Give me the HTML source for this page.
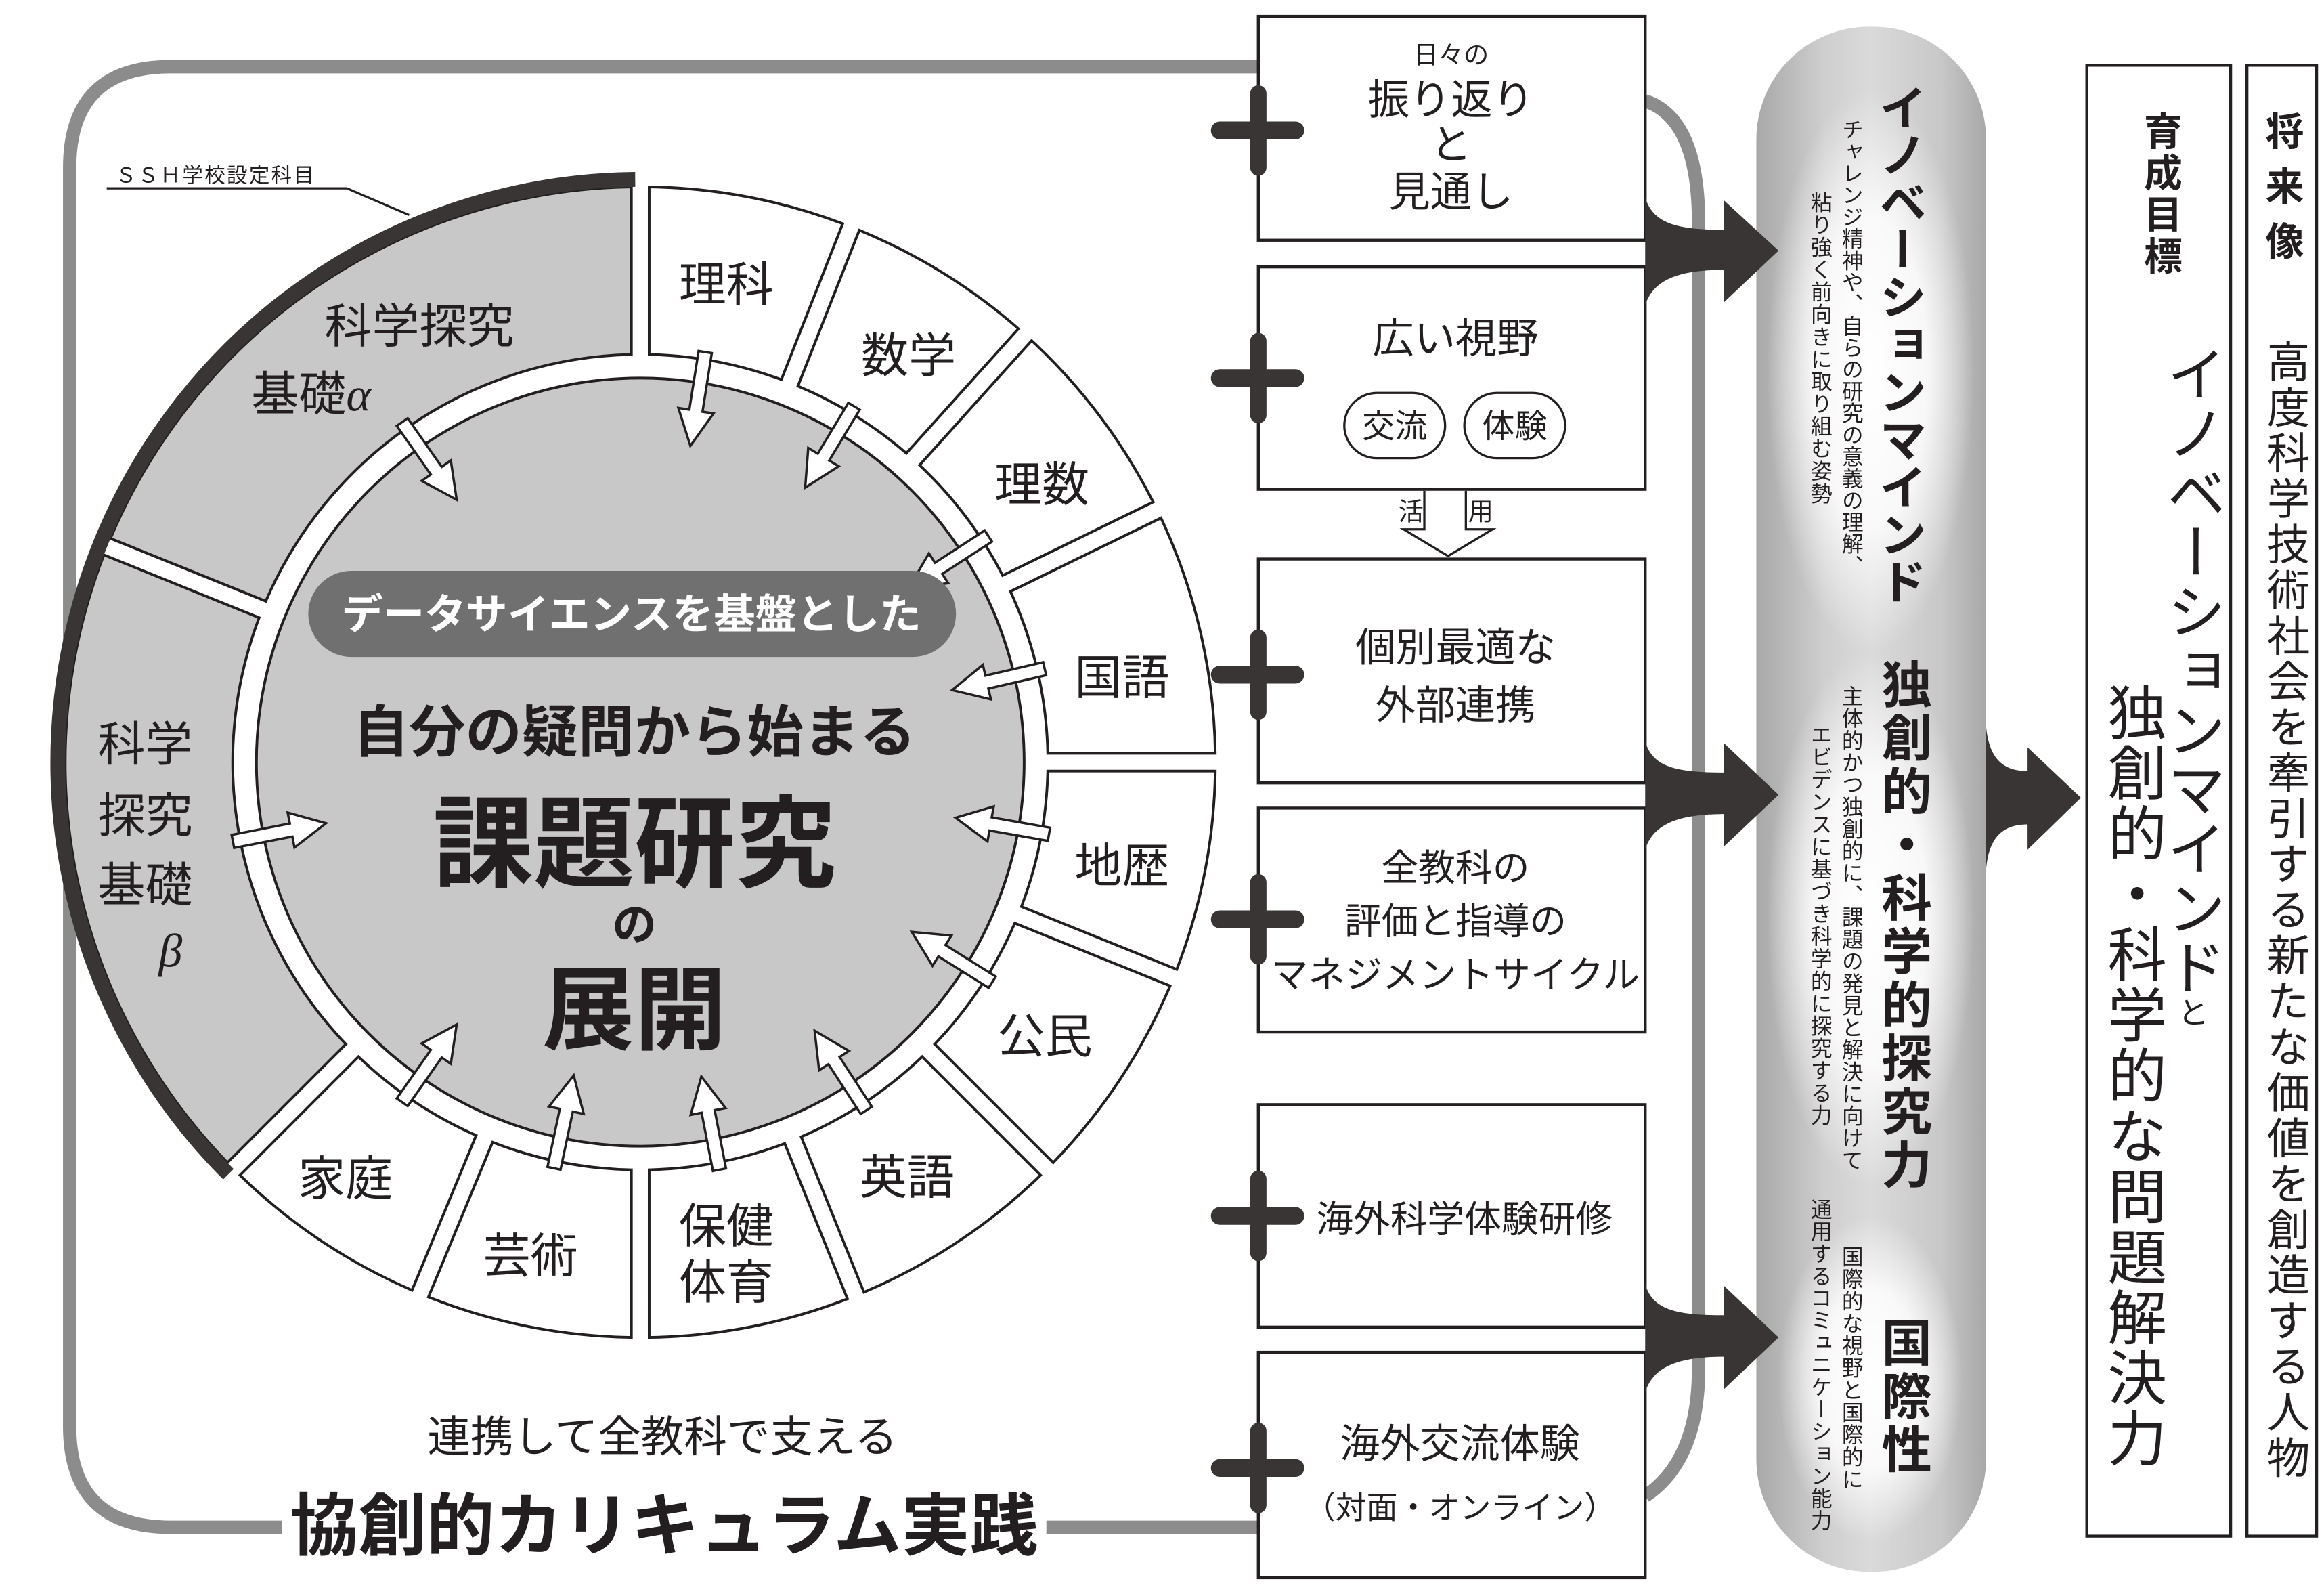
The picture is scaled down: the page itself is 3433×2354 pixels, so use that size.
<!DOCTYPE html>
<html><head><meta charset="utf-8">
<style>
html,body{margin:0;padding:0;background:#fff;}
body{width:3433px;height:2354px;overflow:hidden;position:relative;}
#s{position:absolute;left:0;top:0;width:1568px;height:1075px;transform:scale(2.18941,2.18977);transform-origin:0 0;font-family:"Liberation Sans","Noto Sans CJK JP",sans-serif;color:#231f20;}
#s svg{position:absolute;left:0;top:0;}
.v{position:absolute;writing-mode:vertical-rl;white-space:nowrap;line-height:1;font-family:"Liberation Sans","Noto Sans CJK JP",sans-serif;}
</style></head><body>
<div id="s">
<svg width="1568" height="1075" viewBox="0 0 1568 1075" xmlns="http://www.w3.org/2000/svg" font-family="Liberation Sans, Noto Sans CJK JP, sans-serif">
<defs>
<radialGradient id="glow" cx="50%" cy="50%" r="50%">
<stop offset="0" stop-color="#ffffff" stop-opacity="1"/>
<stop offset="0.55" stop-color="#ffffff" stop-opacity="0.85"/>
<stop offset="1" stop-color="#ffffff" stop-opacity="0"/>
</radialGradient>
<linearGradient id="pg" x1="0" x2="1" y1="0" y2="0">
<stop offset="0" stop-color="#a8a8a8"/>
<stop offset="0.3" stop-color="#cfcfcf"/>
<stop offset="0.5" stop-color="#dadada"/>
<stop offset="0.8" stop-color="#c8c8c8"/>
<stop offset="1" stop-color="#a8a8a8"/>
</linearGradient>
<clipPath id="pc"><rect x="1185" y="18" width="155" height="1042" rx="76"/></clipPath>
</defs>

<g fill="none" stroke="#8c8c8c" stroke-width="9">
<path d="M850,45 L115,45 Q47,45 47,113 L47,962 Q47,1030 115,1030 L190,1030"/>
<path d="M706,1030 L850,1030"/>
<path d="M1110,68 Q1146,80 1146,150 L1146,923 Q1146,985 1110,1009"/>
</g>

<g id="circ"></g>

<text x="78" y="123" font-size="14" fill="#231f20" letter-spacing="1">ＳＳＨ学校設定科目</text>
<path d="M72,127 L234,127 L276,145" fill="none" stroke="#231f20" stroke-width="1.5"/>

<g font-size="32" fill="#231f20" text-anchor="middle">
<text x="490" y="203">理科</text>
<text x="613" y="251">数学</text>
<text x="703" y="338">理数</text>
<text x="757" y="468">国語</text>
<text x="757" y="595">地歴</text>
<text x="705" y="710">公民</text>
<text x="612" y="805">英語</text>
<text x="490" y="838">保健</text>
<text x="490" y="876">体育</text>
<text x="358" y="858">芸術</text>
<text x="233" y="806">家庭</text>
<text x="283" y="231">科学探究</text>
<text x="210" y="277">基礎<tspan font-style="italic" font-family="Liberation Serif, serif">α</tspan></text>
<text x="98" y="513">科学</text>
<text x="98" y="561">探究</text>
<text x="98" y="608">基礎</text>
<text x="115" y="652" font-style="italic" font-family="Liberation Serif, serif">β</text>
</g>

<rect x="208" y="385" width="437" height="58" rx="29" fill="#707070"/>
<text x="426" y="424" font-size="28" font-weight="bold" fill="#fff" text-anchor="middle">データサイエンスを基盤とした</text>
<text x="428" y="507" font-size="38" font-weight="bold" fill="#231f20" text-anchor="middle">自分の疑問から始まる</text>
<text x="428" y="593" font-size="68" font-weight="bold" fill="#231f20" text-anchor="middle">課題研究</text>
<text x="428" y="634" font-size="30" font-weight="bold" fill="#231f20" text-anchor="middle">の</text>
<text x="428" y="703" font-size="62" font-weight="bold" fill="#231f20" text-anchor="middle">展開</text>

<text x="447" y="979" font-size="29" fill="#231f20" text-anchor="middle">連携して全教科で支える</text>
<text x="448" y="1045" font-size="46" font-weight="bold" fill="#231f20" text-anchor="middle">協創的カリキュラム実践</text>

<g fill="#fff" stroke="#231f20" stroke-width="2">
<rect x="849" y="11" width="261" height="151"/>
<rect x="849" y="180" width="261" height="150"/>
<rect x="849" y="377" width="261" height="151"/>
<rect x="849" y="545" width="261" height="151"/>
<rect x="849" y="745" width="261" height="150"/>
<rect x="849" y="912" width="261" height="152"/>
</g>
<g fill="#231f20" text-anchor="middle">
<text x="979" y="43" font-size="17">日々の</text>
<text x="979" y="77" font-size="28">振り返り</text>
<text x="979" y="107" font-size="28">と</text>
<text x="979" y="139" font-size="28">見通し</text>
<text x="982" y="238" font-size="28">広い視野</text>
<text x="982" y="446" font-size="27">個別最適な</text>
<text x="982" y="485" font-size="27">外部連携</text>
<text x="982" y="594" font-size="25">全教科の</text>
<text x="982" y="630" font-size="25">評価と指導の</text>
<text x="982" y="666" font-size="25">マネジメントサイクル</text>
<text x="988" y="831" font-size="25">海外科学体験研修</text>
<text x="985" y="983" font-size="27">海外交流体験</text>
<text x="985" y="1024" font-size="21">（対面・オンライン）</text>
</g>
<g fill="#fff" stroke="#231f20" stroke-width="1.5">
<rect x="907" y="265" width="68" height="44" rx="22"/>
<rect x="988" y="265" width="68" height="44" rx="22"/>
</g>
<g font-size="22" fill="#231f20" text-anchor="middle">
<text x="941" y="295">交流</text>
<text x="1022" y="295">体験</text>
</g>

<path d="M961,331 L961,357 L947,357 L977,375 L1007,357 L989,357 L989,331" fill="#fff" stroke="#231f20" stroke-width="1.5"/>
<text x="952" y="351" font-size="17" fill="#231f20" text-anchor="middle">活</text>
<text x="999" y="351" font-size="17" fill="#231f20" text-anchor="middle">用</text>

<g stroke="#3a3535" stroke-linecap="round" fill="none">
<g id="plus"></g>
</g>

<rect x="1185" y="18" width="155" height="1042" rx="76" fill="url(#pg)"/>
<g clip-path="url(#pc)">
<ellipse cx="1262" cy="250" rx="70" ry="190" fill="url(#glow)"/>
<ellipse cx="1262" cy="620" rx="70" ry="180" fill="url(#glow)"/>
<ellipse cx="1262" cy="930" rx="62" ry="110" fill="url(#glow)"/>
</g>

<g fill="#3a3535">
<path d="M1110,133 C1115,150 1130,155 1163,155 L1163,135 L1200,169 L1163,204 L1163,182 C1130,182 1115,190 1110,206 Z"/>
<path d="M1110,500 C1115,517 1130,521 1163,521 L1163,501 L1200,536 L1163,571 L1163,549 C1130,549 1115,557 1110,573 Z"/>
<path d="M1110,866 C1115,883 1130,887 1163,887 L1163,867 L1200,902 L1163,937 L1163,915 C1130,915 1115,923 1110,939 Z"/>
<path d="M1340,490 C1342,510 1350,520 1368,520 L1368,504 L1404,538 L1368,573 L1368,556 C1350,556 1342,566 1340,586 Z"/>
</g>

<rect x="1408" y="44" width="97" height="992" fill="#fff" stroke="#231f20" stroke-width="2"/>
<rect x="1516" y="44" width="47" height="992" fill="#fff" stroke="#231f20" stroke-width="2"/>
</svg>

<div class="v" style="left:1266px;top:56px;font-size:32px;font-weight:bold;letter-spacing:0px;">イノベーションマインド</div>
<div class="v" style="left:1241px;top:80px;font-size:14.5px;letter-spacing:0.2px;">チャレンジ精神や、自らの研究の意義の理解、</div>
<div class="v" style="left:1220px;top:129px;font-size:14.5px;letter-spacing:0.6px;">粘り強く前向きに取り組む姿勢</div>
<div class="v" style="left:1266px;top:444px;font-size:34px;font-weight:bold;letter-spacing:2px;">独創的・科学的探究力</div>
<div class="v" style="left:1241px;top:462px;font-size:14.5px;letter-spacing:0.4px;">主体的かつ独創的に、課題の発見と解決に向けて</div>
<div class="v" style="left:1220px;top:488px;font-size:14.5px;letter-spacing:0.6px;">エビデンスに基づき科学的に探究する力</div>
<div class="v" style="left:1266px;top:888px;font-size:34px;font-weight:bold;letter-spacing:2px;">国際性</div>
<div class="v" style="left:1241px;top:840px;font-size:14.5px;letter-spacing:0.5px;">国際的な視野と国際的に</div>
<div class="v" style="left:1220px;top:808px;font-size:14.5px;letter-spacing:0.5px;">通用するコミュニケーション能力</div>

<div class="v" style="left:1445px;top:75px;font-size:26px;font-weight:bold;letter-spacing:2px;">育成目標</div>
<div class="v" style="left:1458px;top:232px;font-size:40px;">イノベーションマインド<span style="font-size:21px;">と</span></div>
<div class="v" style="left:1418px;top:460px;font-size:40px;letter-spacing:0.8px;">独創的・科学的な問題解決力</div>
<div class="v" style="left:1527px;top:75px;font-size:26px;font-weight:bold;letter-spacing:11px;">将来像</div>
<div class="v" style="left:1526px;top:229px;font-size:29px;letter-spacing:1.8px;">高度科学技術社会を牽引する新たな価値を創造する人物</div>
</div>

<script>
(function(){
var NS="http://www.w3.org/2000/svg";
var cx=432,cy=514,R=388,RI=275,RD=259;
function P(r,a){a=a*Math.PI/180;return [cx+r*Math.sin(a),cy-r*Math.cos(a)];}
function f(p){return p[0].toFixed(2)+","+p[1].toFixed(2);}
var g=document.getElementById("circ");
function add(tag,attrs,parent){var e=document.createElementNS(NS,tag);for(var k in attrs)e.setAttribute(k,attrs[k]);(parent||g).appendChild(e);return e;}
add("circle",{cx:cx,cy:cy,r:R+1,fill:"#fff"});
var segs=[[0,21.5,0],[21.5,42,0],[42,64,0],[64,90,0],[90,112,0],[112,135,0],[135,158,0],[158,180,0],[180,202.5,0],[202.5,225,0],[225,292,1],[292,360,1]];
var gh=6;
segs.forEach(function(s){
 var dO=Math.asin(gh/R)*180/Math.PI, dI=Math.asin(gh/RI)*180/Math.PI;
 var a1=s[0]+dO,a2=s[1]-dO,b1=s[0]+dI,b2=s[1]-dI;
 var d="M"+f(P(R,a1))+" A"+R+","+R+" 0 "+((a2-a1)>180?1:0)+" 1 "+f(P(R,a2))+" L"+f(P(RI,b2))+" A"+RI+","+RI+" 0 "+((b2-b1)>180?1:0)+" 0 "+f(P(RI,b1))+" Z";
 add("path",{d:d,fill:s[2]?"#c8c8c8":"#fff",stroke:"#231f20","stroke-width":"1.8","stroke-linejoin":"miter"});
});
add("circle",{cx:cx,cy:cy,r:RD,fill:"#c8c8c8",stroke:"#231f20","stroke-width":"1.8"});
var a0=P(393,225),a1=P(393,359.5);
add("path",{d:"M"+f(a0)+" A393,393 0 0 1 "+f(a1),fill:"none",stroke:"#3a3535","stroke-width":"10"});
var arr=[325,9,31,57,77,100,122,147,169,192,215,259];
arr.forEach(function(a){
 var w=4.5,hw=12,r0=280,r1=240,r2=216;
 var t=a*Math.PI/180, ux=Math.sin(t), uy=-Math.cos(t), px=Math.cos(t), py=Math.sin(t);
 function Q(r,o){return [cx+r*ux+o*px,cy+r*uy+o*py];}
 var d="M"+f(Q(r0,-w))+" L"+f(Q(r1,-w))+" L"+f(Q(r1,-hw))+" L"+f(Q(r2,0))+" L"+f(Q(r1,hw))+" L"+f(Q(r1,w))+" L"+f(Q(r0,w))+" Z";
 add("path",{d:d,fill:"#fff",stroke:"#231f20","stroke-width":"1.6","stroke-linejoin":"miter"});
});
var pg=document.getElementById("plus");
[88,255,455,620,820,990].forEach(function(y){
 add("line",{x1:823,y1:y,x2:874,y2:y,"stroke-width":"12"},pg);
 add("line",{x1:849,y1:y-25,x2:849,y2:y+25,"stroke-width":"11"},pg);
});
})();
</script>
</body></html>
